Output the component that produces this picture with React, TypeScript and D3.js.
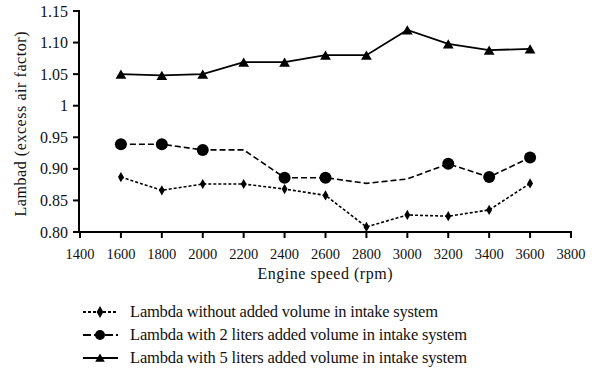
import React from "react";
import * as d3 from "d3";

const speeds = [1600, 1800, 2000, 2200, 2400, 2600, 2800, 3000, 3200, 3400, 3600];
const lambdaNone = [0.887, 0.866, 0.876, 0.876, 0.868, 0.858, 0.808, 0.827, 0.825, 0.835, 0.877];
const lambda2L = [0.939, 0.939, 0.93, 0.93, 0.886, 0.886, 0.877, 0.884, 0.908, 0.887, 0.918];
const lambda2LMarked = [true, true, true, false, true, true, false, false, true, true, true];
const lambda5L = [1.05, 1.048, 1.05, 1.069, 1.069, 1.08, 1.08, 1.12, 1.098, 1.088, 1.09];
const xTicks = [1400, 1600, 1800, 2000, 2200, 2400, 2600, 2800, 3000, 3200, 3400, 3600, 3800];
const yTicks = [0.8, 0.85, 0.9, 0.95, 1.0, 1.05, 1.1, 1.15];
const yTickLabels = ["0.80", "0.85", "0.90", "0.95", "1", "1.05", "1.10", "1.15"];
const legendLabels = [
  "Lambda without added volume in intake system",
  "Lambda with 2 liters added volume in intake system",
  "Lambda with 5 liters added volume in intake system",
];

export default function App() {
  const x = d3.scaleLinear().domain([1400, 3800]).range([80, 571]);
  const y = d3.scaleLinear().domain([0.8, 1.15]).range([232, 11]);
  const line = d3
    .line<number>()
    .x((_, i) => x(speeds[i]))
    .y((d) => y(d));
  const tri = d3.symbol().type(d3.symbolTriangle).size(50)()!;
  const triL = d3.symbol().type(d3.symbolTriangle).size(40)()!;
  const dia = d3.symbol().type(d3.symbolDiamond).size(30)()!;
  const diaL = d3.symbol().type(d3.symbolDiamond).size(40)()!;
  const legendY = [312, 335, 358];
  const legendLen = [308, 337, 337];

  return (
    <svg
      width={592}
      height={370}
      style={{ position: "absolute", left: 0, top: 0, background: "#fff", fontFamily: "Liberation Serif" }}
    >
      <rect width={592} height={370} fill="#fff" />
      {/* axes */}
      <line x1={79} x2={79} y1={10} y2={233} stroke="#000" strokeWidth={2} />
      <line x1={78} x2={572} y1={232} y2={232} stroke="#000" strokeWidth={2} />
      {yTicks.map((t, i) => (
        <g key={t}>
          <line x1={73} x2={79} y1={y(t)} y2={y(t)} stroke="#000" strokeWidth={2} />
          <text x={68} y={y(t)} dy="0.35em" textAnchor="end" fontSize={16} fill="#111">
            {yTickLabels[i]}
          </text>
        </g>
      ))}
      {xTicks.map((t) => (
        <g key={t}>
          <line x1={x(t)} x2={x(t)} y1={232} y2={238} stroke="#000" strokeWidth={2} />
          <text x={x(t)} y={259} textAnchor="middle" fontSize={14.5} fill="#111">
            {t}
          </text>
        </g>
      ))}
      <text x={325} y={279} textAnchor="middle" fontSize={16} fill="#111" textLength={135}>
        Engine speed (rpm)
      </text>
      <text
        transform="translate(26,124) rotate(-90)"
        textAnchor="middle"
        fontSize={16}
        fill="#111"
        textLength={185}
      >
        Lambad (excess air factor)
      </text>

      {/* series */}
      <path d={line(lambdaNone)!} fill="none" stroke="#000" strokeWidth={1.6} strokeDasharray="3,2" />
      <path d={line(lambda2L)!} fill="none" stroke="#000" strokeWidth={1.6} strokeDasharray="6,3" />
      <path d={line(lambda5L)!} fill="none" stroke="#000" strokeWidth={1.8} />
      {lambdaNone.map((v, i) => (
        <path key={"d" + i} d={dia} transform={`translate(${x(speeds[i])},${y(v)})`} fill="#000" />
      ))}
      {lambda2L.map((v, i) =>
        lambda2LMarked[i] ? <circle key={"c" + i} cx={x(speeds[i])} cy={y(v)} r={6} fill="#000" /> : null
      )}
      {lambda5L.map((v, i) => (
        <path key={"t" + i} d={tri} transform={`translate(${x(speeds[i])},${y(v) + 1.5})`} fill="#000" />
      ))}

      {/* legend */}
      {legendLabels.map((lab, i) => (
        <g key={lab}>
          <line
            x1={83}
            x2={118}
            y1={legendY[i]}
            y2={legendY[i]}
            stroke="#000"
            strokeWidth={i === 2 ? 2 : 1.8}
            strokeDasharray={i === 0 ? "3,2" : i === 1 ? "8,3" : undefined}
          />
          {i === 0 && <path d={diaL} transform={`translate(100,${legendY[i]})`} fill="#000" />}
          {i === 1 && <circle cx={100} cy={legendY[i]} r={5} fill="#000" />}
          {i === 2 && <path d={triL} transform={`translate(100,${legendY[i] + 1})`} fill="#000" />}
          <text x={130} y={legendY[i]} dy="0.33em" fontSize={16.5} fill="#111" textLength={legendLen[i]}>
            {lab}
          </text>
        </g>
      ))}
    </svg>
  );
}
